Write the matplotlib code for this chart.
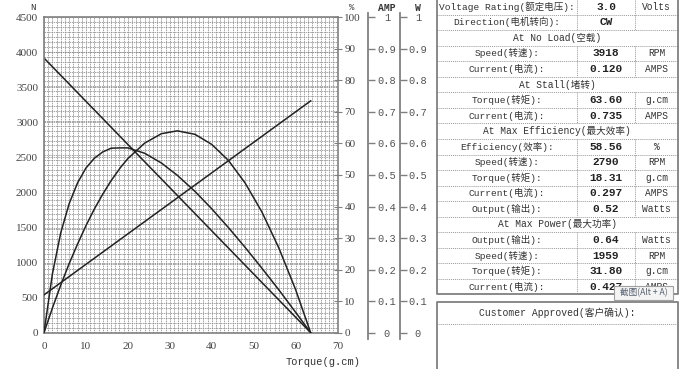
#!/usr/bin/env python3
# Motor performance curve sheet: speed / efficiency / current / output vs torque,
# with the specification table on the right.

import numpy as np
import matplotlib.pyplot as plt

plt.rcParams.update({
    "figure.dpi": 100,
    "savefig.dpi": 100,
    "font.size": 7.5,
    "axes.linewidth": 0.9,
})

MONO = ["Liberation Mono", "Noto Sans CJK SC", "DejaVu Sans"]
SERIF = ["Liberation Serif", "DejaVu Serif"]
GRAY = "#808080"
INK = "#222222"

# ----------------------------
# Curve data
# ----------------------------
torque = [0, 2, 4, 6, 8, 10, 12, 14, 16, 18.31, 20, 24, 28, 31.8,
          36, 40, 44, 48, 52, 56, 60, 63.6]
efficiency = [0, 18.6, 31.7, 40.9, 47.5, 52.2, 55.3, 57.3, 58.5, 58.6, 58.6,
              56.9, 53.8, 49.9, 44.8, 39.3, 33.3, 27.0, 20.4, 13.6, 6.5, 0]
output_w = [0, 0.078, 0.151, 0.219, 0.281, 0.339, 0.392, 0.439, 0.482, 0.525,
            0.552, 0.601, 0.631, 0.640, 0.629, 0.597, 0.546, 0.474, 0.382,
            0.269, 0.137, 0]
speed_torque = [0, 63.6]
speed_rpm = [3918, 0]
current_torque = [0, 63.6]
current_amp = [0.120, 0.735]

# ----------------------------
# Table data
# ----------------------------
row_labels = [
    "Voltage Rating(额定电压):", "Direction(电机转向):", "At No Load(空载)",
    "Speed(转速):", "Current(电流):", "At Stall(堵转)",
    "Torque(转矩):", "Current(电流):", "At Max Efficiency(最大效率)",
    "Efficiency(效率):", "Speed(转速):", "Torque(转矩):", "Current(电流):",
    "Output(输出):", "At Max Power(最大功率)", "Output(输出):",
    "Speed(转速):", "Torque(转矩):", "Current(电流):",
]
row_values = ["3.0", "CW", None, "3918", "0.120", None, "63.60", "0.735", None,
              "58.56", "2790", "18.31", "0.297", "0.52", None, "0.64",
              "1959", "31.80", "0.427"]
row_units = ["Volts", "", None, "RPM", "AMPS", None, "g.cm", "AMPS", None,
             "%", "RPM", "g.cm", "AMPS", "Watts", None, "Watts",
             "RPM", "g.cm", "AMPS"]

x_ticks = list(range(0, 71, 10))
n_ticks = list(range(0, 4501, 500))
pct_ticks = list(range(0, 101, 10))
frac_ticks = [i / 10 for i in range(11)]
frac_labels = ["0", "0.1", "0.2", "0.3", "0.4", "0.5", "0.6", "0.7", "0.8", "0.9", "1"]


def style_frac_axis(axx, offset, pad):
    '''Extra right-hand axis (AMP / W) drawn as a free spine.'''
    for side in ("left", "top", "bottom"):
        axx.spines[side].set_visible(False)
    sp = axx.spines["right"]
    sp.set_position(("axes", offset))
    sp.set_color(GRAY)
    sp.set_linewidth(1.3)
    sp.set_bounds(-0.02, 1.015)
    axx.set_ylim(0, 1)
    axx.set_yticks(frac_ticks, labels=frac_labels)
    axx.tick_params(axis="y", direction="out", length=5, width=1.0,
                    color=GRAY, pad=pad, labelcolor="#555555")
    for lbl in axx.get_yticklabels():
        lbl.set_horizontalalignment("center")
        lbl.set_family(MONO)
        lbl.set_fontsize(7.5)


def draw_chart(fig):
    W, H = 680, 369
    ax = fig.add_axes([44 / W, (H - 332.7) / H, 293.5 / W, 315.4 / H])
    ax.set_xlim(0, 70)
    ax.set_ylim(0, 4500)
    ax.set_xticks(x_ticks)
    ax.set_yticks(n_ticks)
    ax.set_xticks(np.arange(0, 71, 1), minor=True)
    ax.set_yticks(np.linspace(0, 4500, 65), minor=True)
    ax.grid(True, which="both", color="#8c8c8c", linestyle=(0, (2, 1)), linewidth=0.55)
    ax.set_axisbelow(True)
    ax.tick_params(which="both", length=0)
    ax.tick_params(axis="y", pad=4.3, labelcolor="#444444")
    ax.tick_params(axis="x", pad=7.0, labelcolor="#444444")
    for lbl in ax.get_xticklabels() + ax.get_yticklabels():
        lbl.set_family(SERIF)
        lbl.set_fontsize(8)
    for sp in ax.spines.values():
        sp.set_color(GRAY)
        sp.set_linewidth(1.2)

    ax.plot(speed_torque, speed_rpm, color=INK, lw=1.1)

    ax_pct = ax.twinx()
    ax_pct.set_ylim(0, 100)
    ax_pct.set_yticks(pct_ticks)
    ax_pct.tick_params(axis="y", direction="inout", length=6, color=GRAY,
                       pad=2, labelcolor="#444444")
    for lbl in ax_pct.get_yticklabels():
        lbl.set_family(SERIF)
        lbl.set_fontsize(8)
    for sp in ax_pct.spines.values():
        sp.set_visible(False)
    ax_pct.plot(torque, efficiency, color=INK, lw=1.1)

    ax_amp = ax.twinx()
    style_frac_axis(ax_amp, 1.104, 8.6)
    ax_amp.plot(current_torque, current_amp, color=INK, lw=1.1)

    ax_w = ax.twinx()
    style_frac_axis(ax_w, 1.213, 7.9)
    ax_w.plot(torque, output_w, color=INK, lw=1.1)

    fig.text(33 / W, 1 - 7 / H, "N", family=MONO, fontsize=6.5, ha="center",
             va="center", color="#333333")
    fig.text(352 / W, 1 - 8 / H, "%", family=MONO, fontsize=6.5, ha="center",
             va="center", color="#333333")
    fig.text(387 / W, 1 - 8 / H, "AMP", family=MONO, fontsize=7, ha="center",
             va="center", weight="bold", color="#333333")
    fig.text(418 / W, 1 - 8 / H, "W", family=MONO, fontsize=7, ha="center",
             va="center", weight="bold", color="#333333")
    fig.text(323 / W, 1 - 362 / H, "Torque(g.cm)", family=MONO, fontsize=7.5,
             ha="center", va="center", color="#333333")


def draw_table(fig):
    ov = fig.add_axes([0, 0, 1, 1])
    ov.set_xlim(0, 680)
    ov.set_ylim(369, 0)
    ov.axis("off")

    left, c1, c2, right = 436.5, 577, 635, 678
    top, rh = -1.0, 15.55
    n = len(row_labels)
    bottom = top + n * rh
    dot = dict(color="#9a9a9a", lw=0.7, linestyle=(0, (1, 1)))

    for i in range(1, n):
        y = top + i * rh
        ov.plot([left, right], [y, y], **dot)
    for i, (lab, val, unit) in enumerate(zip(row_labels, row_values, row_units)):
        y0, yc = top + i * rh, top + (i + 0.5) * rh
        if val is None:
            ov.text((left + right) / 2, yc, lab, family=MONO, fontsize=6.9,
                    ha="center", va="center", color="#333333")
            continue
        ov.plot([c1, c1], [y0, y0 + rh], **dot)
        ov.plot([c2, c2], [y0, y0 + rh], **dot)
        ov.text((left + c1) / 2, yc, lab, family=MONO, fontsize=6.8,
                ha="center", va="center", color="#333333")
        ov.text((c1 + c2) / 2, yc, val, family=MONO, fontsize=8,
                weight="bold", ha="center", va="center", color="#222222")
        ov.text((c2 + right) / 2, yc, unit, family=MONO, fontsize=6.9,
                ha="center", va="center", color="#333333")
    ov.plot([left, left, right, right], [0, bottom, bottom, 0],
            color=GRAY, lw=1.3)

    # customer approval box
    ov.plot([left, left, right, right, left], [375, 301.5, 301.5, 375, 375],
            color=GRAY, lw=1.3)
    ov.plot([left, right], [324, 324], **dot)
    ov.text((left + right) / 2, 312.5, "Customer Approved(客户确认):",
            family=MONO, fontsize=7, ha="center", va="center", color="#333333")

    # screenshot tooltip overlay
    ov.add_patch(plt.Rectangle((614, 286), 59, 14, facecolor="#f4f4f4",
                               edgecolor="#a0a0a0", lw=0.8, zorder=5))
    ov.text(643.5, 293, "截图(Alt + A)", family=["Noto Sans CJK SC", "DejaVu Sans"],
            fontsize=6.2, ha="center", va="center", color="#55606e", zorder=6)


def main():
    fig = plt.figure(figsize=(6.8, 3.69))
    fig.patch.set_facecolor("white")
    draw_chart(fig)
    draw_table(fig)
    fig.savefig("out.png", dpi=100)
    plt.close(fig)


if __name__ == "__main__":
    main()
